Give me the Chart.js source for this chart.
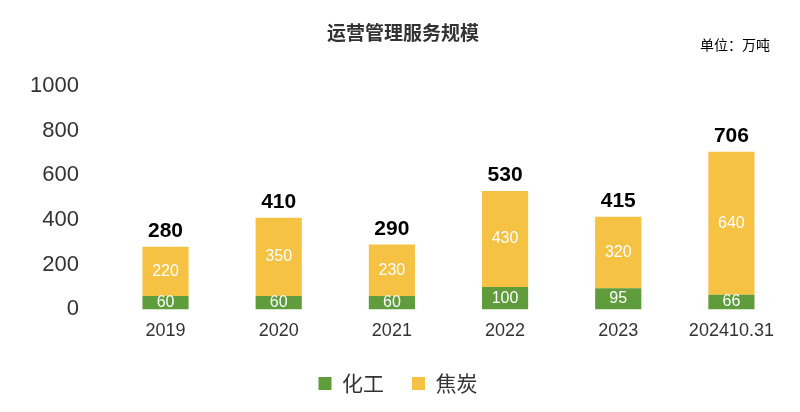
<!DOCTYPE html>
<html><head><meta charset="utf-8">
<script src="https://cdn.jsdelivr.net/npm/chart.js@4"></script>
<style>body{margin:0;background:#fff}#w{width:800px;height:412px;position:relative}</style>
</head><body><div id="w"><canvas id="c"></canvas></div>
<script>
const categories=['2019','2020','2021','2022','2023','202410.31'];
const chemical=[60,60,60,100,95,66];
const coke=[220,350,230,430,320,640];
const totals=[280,410,290,530,415,706];
const yTicks=[0,200,400,600,800,1000];
const F='"Liberation Sans","Noto Sans CJK SC",sans-serif';
const C='"Noto Sans CJK SC",sans-serif';
const labelPlugin={id:'lbl',afterDatasetsDraw(ch){
  const ctx=ch.ctx;ctx.save();ctx.textAlign='center';ctx.textBaseline='middle';
  ch.data.datasets.forEach((ds,i)=>{ch.getDatasetMeta(i).data.forEach((b,j)=>{
    ctx.fillStyle='#fff';ctx.font='16px '+F;
    ctx.fillText(ds.data[j],b.x,(b.y+b.base)/2);});});
  const top=ch.getDatasetMeta(1).data;
  ctx.fillStyle='#000';ctx.font='bold 21px '+F;ctx.textBaseline='bottom';
  top.forEach((b,j)=>ctx.fillText(totals[j],b.x,b.y-5));
  ctx.font='bold 19px '+C;ctx.fillStyle='#333';ctx.textBaseline='middle';
  ctx.fillText('运营管理服务规模',403,33);
  ctx.font='14px '+C;ctx.fillStyle='#000';ctx.textAlign='right';
  ctx.fillText('单位：万吨',770,45);
  ctx.restore();}};
new Chart(document.getElementById('c'),{type:'bar',
data:{labels:categories,datasets:[
 {label:'化工',data:chemical,backgroundColor:'#5E9C3C'},
 {label:'焦炭',data:coke,backgroundColor:'#F6C244'}]},
options:{responsive:true,maintainAspectRatio:false,animation:false,
 layout:{padding:{top:86,right:12,left:8,bottom:8}},
 scales:{x:{stacked:true,grid:{display:false},border:{display:false},
   ticks:{color:'#333',font:{size:18,family:F}}},
  y:{stacked:true,min:0,max:1000,afterBuildTicks(a){a.ticks=yTicks.map(v=>({value:v}));},
   grid:{display:false},border:{display:false},
   ticks:{color:'#333',font:{size:22,family:F},padding:22,callback:v=>String(v)}}},
 datasets:{bar:{categoryPercentage:0.85,barPercentage:0.48}},
 plugins:{tooltip:{enabled:false},legend:{position:'bottom',
  labels:{boxWidth:13,boxHeight:13,padding:28,color:'#333',font:{size:21,family:C}}}}},
plugins:[labelPlugin]});
</script></body></html>
